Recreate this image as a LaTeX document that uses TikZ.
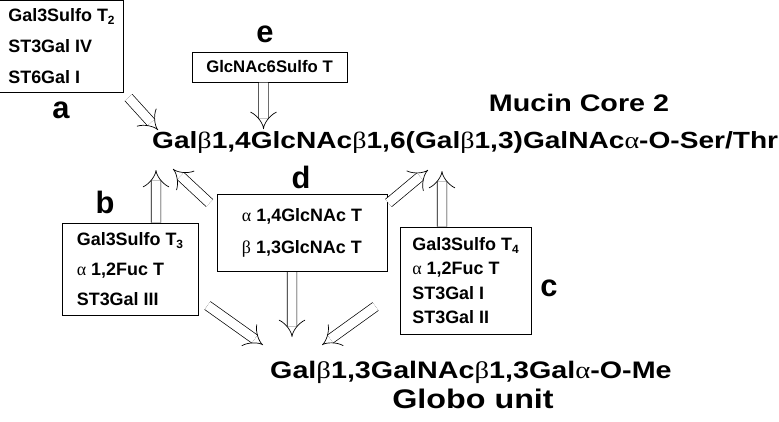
\documentclass[tikz,border=0pt]{standalone}
\usepackage{fontspec}
\setmainfont{Liberation Sans}
\newfontfamily\grkfont{Liberation Serif}
\newfontfamily\sugarfont[FakeStretch=1.2]{Liberation Sans}
\newfontfamily\sugargrk[FakeStretch=1.2]{Liberation Serif}
\usepackage{xcolor}
\definecolor{cInk}{HTML}{000000}
\usetikzlibrary{positioning,arrows.meta}
\newcommand{\gk}[1]{{\grkfont\mdseries #1}}
\newcommand{\sg}[1]{{\sugargrk\mdseries #1}}
\newcommand{\lowidx}[1]{\raisebox{-0.35ex}{\fontsize{12}{12}\selectfont #1}}
\tikzset{
  enz-box/.style={draw=cInk,line width=1bp,align=left,inner sep=0pt,
    font=\bfseries\fontsize{18}{31}\selectfont},
  tag-label/.style={font=\bfseries\fontsize{31}{31}\selectfont,inner sep=0pt},
  sugar/.style={font=\sugarfont\bfseries\fontsize{23.5}{24}\selectfont,inner sep=0pt},
  sugar-name/.style={font=\sugarfont\bfseries\fontsize{24}{24}\selectfont,inner sep=0pt},
  hollow-arrow/.style={draw=cInk,double,double distance=9bp,line width=0.7bp,
    -{Implies}},
}
\begin{document}
\begin{tikzpicture}[x=1bp,y=-1bp]
  \useasboundingbox (0,0) rectangle (779,421);
  % sugar chains
  \node[sugar,anchor=base west] (core2) at (152,148)
    {Gal\sg{β}1,4GlcNAc\sg{β}1,6(Gal\sg{β}1,3)GalNAc\sg{α}-O-Ser/Thr};
  \node[sugar-name,anchor=base] (core2-name) at (579,111) {Mucin Core 2};
  \node[sugar,anchor=base west,font=\sugarfont\bfseries\fontsize{24}{24}\selectfont]
    (globo) at (270,378)
    {Gal\sg{β}1,3GalNAc\sg{β}1,3Gal\sg{α}-O-Me};
  \node[sugar-name,anchor=base,font=\sugarfont\bfseries\fontsize{27}{27}\selectfont]
    (globo-name) at (473,408) {Globo unit};
  % enzyme boxes
  \node[enz-box,minimum width=123bp,minimum height=92bp] (boxa) at (61.5,46)
    {Gal3Sulfo T\lowidx{2}\\ST3Gal IV\\ST6Gal I};
  \node[enz-box,minimum width=155bp,minimum height=30bp,
    font=\bfseries\fontsize{16.8}{20}\selectfont] (boxe) at (269.5,67)
    {GlcNAc6Sulfo T};
  \node[enz-box,minimum width=136bp,minimum height=92bp,
    font=\bfseries\fontsize{18}{30}\selectfont] (boxb) at (130,269)
    {Gal3Sulfo T\lowidx{3}\\\gk{α} 1,2Fuc T\\ST3Gal III};
  \node[enz-box,minimum width=170bp,minimum height=77bp,
    font=\bfseries\fontsize{18}{32}\selectfont] (boxd) at (302,233)
    {\gk{α} 1,4GlcNAc T\\\gk{β} 1,3GlcNAc T};
  \node[enz-box,minimum width=131bp,minimum height=107bp,
    font=\bfseries\fontsize{18}{24.5}\selectfont] (boxc) at (465.5,280.5)
    {Gal3Sulfo T\lowidx{4}\\\gk{α} 1,2Fuc T\\ST3Gal I\\ST3Gal II};
  % letters
  \node[tag-label] (tag-a) at (61,110) {a};
  \node[tag-label] (tag-b) at (105,202) {b};
  \node[tag-label] (tag-c) at (549,288) {c};
  \node[tag-label] (tag-d) at (301,177) {d};
  \node[tag-label] (tag-e) at (265,34) {e};
  % arrow tips
  \coordinate (tip-a) at (158,130);
  \coordinate (tip-e) at (263.5,129);
  \coordinate (tip-b) at (156,170);
  \coordinate (tip-dl) at (173,169);
  \coordinate (tip-dr) at (428,170);
  \coordinate (tip-c) at (442,171);
  \coordinate (tip-dg) at (292,337);
  \coordinate (tip-bg) at (263,345);
  \coordinate (tip-cg) at (322,345);
  \draw[hollow-arrow] (boxa.south east) ++(5,5) -- (tip-a);
  \draw[hollow-arrow] ([xshift=-6bp]boxe.south) -- (tip-e);
  \draw[hollow-arrow] ([xshift=26bp]boxb.north) -- (tip-b);
  \draw[hollow-arrow] (boxd.north west) ++(-7,9) -- (tip-dl);
  \draw[hollow-arrow] (boxd.north east) ++(1,9) -- (tip-dr);
  \draw[hollow-arrow] ([xshift=-23.5bp]boxc.north) -- (tip-c);
  \draw[hollow-arrow] ([xshift=-10bp]boxd.south) -- (tip-dg);
  \draw[hollow-arrow] (boxb.south east) ++(9,-10) -- (tip-bg);
  \draw[hollow-arrow] (boxc.south west) ++(-24,-28) -- (tip-cg);
\end{tikzpicture}
\end{document}
